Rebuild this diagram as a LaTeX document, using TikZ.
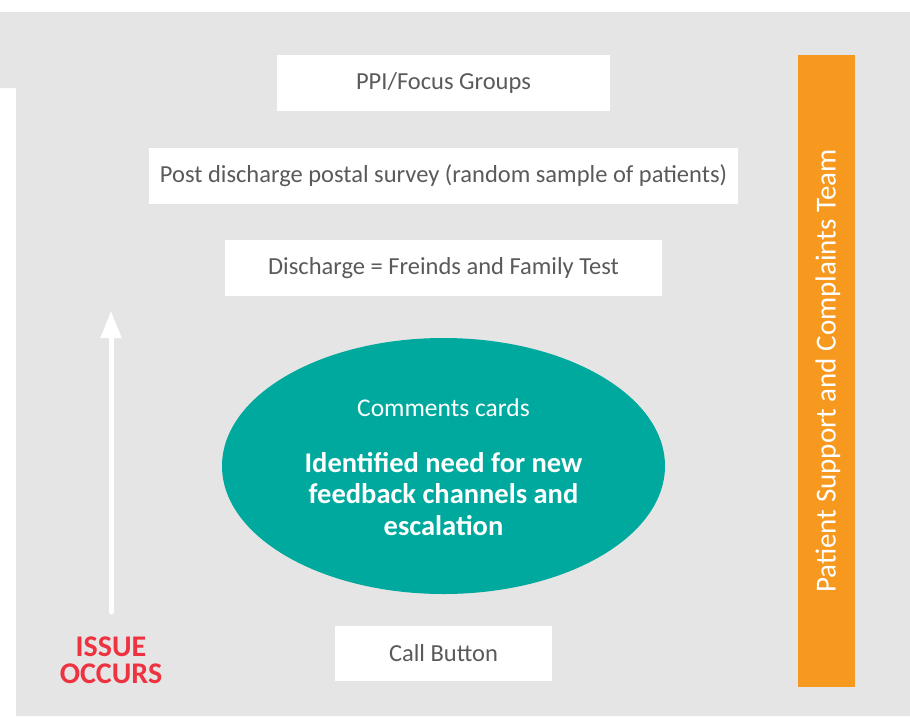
\documentclass[tikz,border=0pt]{standalone}
\usepackage{fontspec}
\setmainfont{Carlito}
\usetikzlibrary{arrows.meta,shapes.geometric}
\definecolor{bggrey}{HTML}{E5E5E5}
\definecolor{txtgrey}{HTML}{5A5A5A}
\definecolor{teal1}{HTML}{00A99D}
\definecolor{orange1}{HTML}{F7991F}
\definecolor{red1}{HTML}{EE3340}
\tikzset{
  wbox/.style={fill=white, draw=none, minimum height=56pt, inner sep=0pt, text=txtgrey, font=\fontsize{24.5}{29}\selectfont},
  bubble/.style={ellipse, fill=teal1, draw=none, minimum width=443pt, minimum height=256pt, inner sep=0pt, text=white, align=center},
  teambox/.style={fill=orange1, draw=none, minimum width=57pt, minimum height=632pt, inner sep=0pt},
  uparrow/.style={draw=white, line width=5pt, line cap=round, -{Triangle[width=20pt,length=27pt]}},
  issuetxt/.style={text=red1, font=\bfseries\fontsize{30}{27}\selectfont, align=center, inner sep=0pt}
}
\begin{document}
\begin{tikzpicture}[x=1pt,y=-1pt]
\useasboundingbox (0,0) rectangle (910,716);
\fill[bggrey] (0,12) -- (910,12) -- (910,716) -- (16,716) -- (16,88) -- (0,88) -- cycle;
\node[wbox, minimum width=333pt] (ppi) at (443.5,83) {PPI/Focus Groups};
\node[wbox, minimum width=589pt] (post) at (443.5,176) {Post discharge postal survey (random sample of patients)};
\node[wbox, minimum width=437pt] (dis) at (443.5,268) {Discharge = Freinds and Family Test};
\node[wbox, minimum width=217pt, minimum height=55pt] (call) at (443.5,653.5) {Call Button};
\node[bubble] (ell) at (443.5,466) {};
\node[text=white, font=\fontsize{25.5}{30}\selectfont, inner sep=0pt] (cc) at (443.5,408) {Comments cards};
\node[text=white, font=\bfseries\fontsize{28.5}{31.5}\selectfont, align=center, inner sep=0pt] (need) at (443.5,494) {Identified need for new\\feedback channels and\\escalation};
\node[teambox] (team) at (826.5,371) {};
\node[rotate=90, text=white, font=\fontsize{29}{34}\selectfont, inner sep=0pt] (teamtxt) at (828,371) {Patient Support and Complaints Team};
\coordinate (abot) at (111,612);
\coordinate (atop) at (111,311);
\draw[uparrow] (abot) -- (atop);
\node[issuetxt] (issue) at (111,660) {ISSUE\\OCCURS};
\end{tikzpicture}
\end{document}
